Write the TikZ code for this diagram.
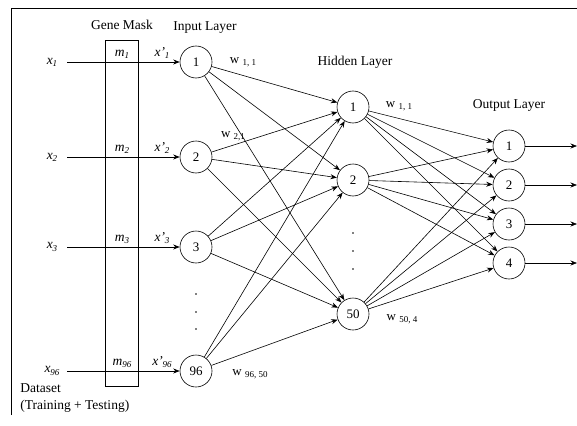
\documentclass[tikz,border=0pt]{standalone}
\usepackage{fontspec}
\setmainfont{Liberation Serif}
\usetikzlibrary{arrows.meta}
\newcommand{\lowsub}[1]{\raisebox{-0.35ex}{\fontsize{9}{10}\selectfont #1}}
\tikzstyle{title} = [text centered, font=\fontsize{13.5}{17}\selectfont]
\tikzstyle{neuron} = [circle, draw=black, minimum size=32pt, inner sep=0pt, font=\fontsize{13}{15}\selectfont]
\tikzstyle{var} = [inner sep=1pt, font=\fontsize{13.5}{15}\selectfont\itshape]
\tikzstyle{weight} = [inner sep=1pt, font=\fontsize{13}{15}\selectfont]
\tikzstyle{dot} = [circle, fill=black, inner sep=0pt, minimum size=1.8pt]
\tikzstyle{arrow} = [line width=0.6pt, -{Stealth[length=6.5pt,width=5pt]}]

\begin{document}
\begin{tikzpicture}[x=1pt, y=-1pt, line width=0.6pt]
		\useasboundingbox (0,0) rectangle (577,425);
		% frame
		\draw (11,415) -- (11,8) -- (577,8);
		% gene mask
		\node (mask) [title] at (122,25) {Gene Mask};
		\draw (105,40) rectangle (138,386);
		\node (inl) [title] at (205,28) {Input Layer};
		\node (hidl) [title] at (355,62) {Hidden Layer};
		\node (outl) [title] at (509,105) {Output Layer};
		% input layer
		\node (i1) [neuron] at (196,62) {1};
		\node (i2) [neuron] at (196,157) {2};
		\node (i3) [neuron] at (196,247) {3};
		\node (i96) [neuron] at (196,371) {96};
		% hidden layer
		\node (h1) [neuron] at (353,107) {1};
		\node (h2) [neuron] at (353,180) {2};
		\node (h50) [neuron] at (353,314) {50};
		% output layer
		\node (o1) [neuron] at (509,146) {1};
		\node (o2) [neuron] at (509,185) {2};
		\node (o3) [neuron] at (509,224) {3};
		\node (o4) [neuron] at (509,263) {4};
		% inputs through the mask
		\foreach \n/\y in {1/62, 2/157, 3/247, 96/371} {
			\node (x\n) [var] at (52,\y) {x\lowsub{\n}};
			\node (m\n) [var] at (122,\y-8) {m\lowsub{\n}};
			\node (xp\n) [var] at (162,\y-9) {x'\lowsub{\n}};
			\coordinate (s\n) at (67,\y);
			\draw [arrow] (s\n) -- (i\n);
		}
		% input -> hidden
		\foreach \a in {1,2,3,96}
			\foreach \b in {1,2,50}
				\draw [arrow] (i\a) -- (h\b);
		% hidden -> output
		\foreach \a in {1,2,50}
			\foreach \b in {1,2,3,4}
				\draw [arrow] (h\a) -- (o\b);
		% outputs
		\foreach \b/\y in {1/146, 2/185, 3/224, 4/263} {
			\coordinate (e\b) at (577,\y);
			\draw [arrow] (o\b) -- (e\b);
		}
		% weights
		\node (w11) [weight] at (243,62) {w \lowsub{1, 1}};
		\node (w21) [weight] at (233,136) {w \lowsub{2,1}};
		\node (w9650) [weight] at (250,374) {w \lowsub{96, 50}};
		\node (v11) [weight] at (399,106) {w \lowsub{1, 1}};
		\node (v504) [weight] at (402,319) {w \lowsub{50, 4}};
		% dots
		\foreach \y in {294,312,329}
			\node [dot] at (196,\y) {};
		\foreach \y in {233,251,269}
			\node [dot] at (353,\y) {};
		% dataset
		\node (data) [title, anchor=west, align=left, inner sep=0pt] at (20,398) {Dataset\\(Training + Testing)};
\end{tikzpicture}
\end{document}
